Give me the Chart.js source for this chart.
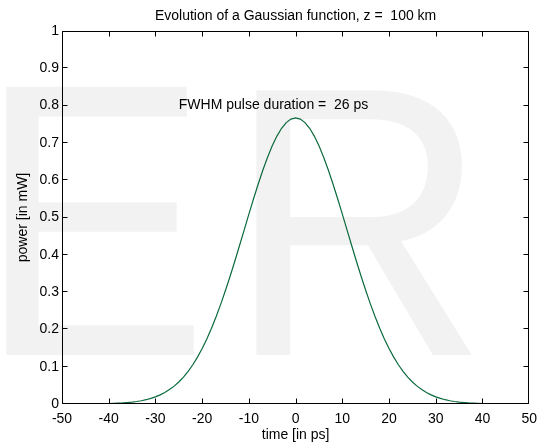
<!DOCTYPE html>
<html><head><meta charset="utf-8">
<script src="https://cdn.jsdelivr.net/npm/chart.js@4/dist/chart.umd.min.js"></script>
<style>html,body{margin:0;padding:0;background:#fff;overflow:hidden}</style>
</head><body><canvas id="c" width="544" height="443"></canvas>
<script>
const chartTitle = 'Evolution of a Gaussian function, z =  100 km';
const xAxisTitle = 'time [in ps]';
const yAxisTitle = 'power [in mW]';
const annotationText = 'FWHM pulse duration =  26 ps';
const annotationPos = [-25, 0.8];

const timePs = [-50,-48,-46,-44,-42,-40,-39,-38,-37,-36,-35,-34,-33,-32,-31,-30,-29,-28,-27,-26,-25,-24,-23,-22,-21,-20,-19,-18,-17,-16,-15,-14,-13,-12,-11,-10,-9,-8,-7,-6,-5,-4,-3,-2,-1,0,1,2,3,4,5,6,7,8,9,10,11,12,13,14,15,16,17,18,19,20,21,22,23,24,25,26,27,28,29,30,31,32,33,34,35,36,37,38,39,40,42,44,46,48,50];
const powerMw = [0,0,0.0001,0.0002,0.0005,0.0011,0.0015,0.0021,0.0028,0.0038,0.0050,0.0067,0.0088,0.0115,0.0149,0.0191,0.0244,0.0308,0.0386,0.0479,0.0591,0.0722,0.0876,0.1053,0.1257,0.1486,0.1745,0.2031,0.2344,0.2684,0.3048,0.3433,0.3835,0.4249,0.4669,0.5089,0.5502,0.5899,0.6273,0.6617,0.6922,0.7183,0.7392,0.7545,0.7639,0.767,0.7639,0.7545,0.7392,0.7183,0.6922,0.6617,0.6273,0.5899,0.5502,0.5089,0.4669,0.4249,0.3835,0.3433,0.3048,0.2684,0.2344,0.2031,0.1745,0.1486,0.1257,0.1053,0.0876,0.0722,0.0591,0.0479,0.0386,0.0308,0.0244,0.0191,0.0149,0.0115,0.0088,0.0067,0.0050,0.0038,0.0028,0.0021,0.0015,0.0011,0.0005,0.0002,0.0001,0,0];

const xTickValues = [-50,-40,-30,-20,-10,0,10,20,30,40,50];
const xTickLabels = ['-50','-40','-30','-20','-10','0','10','20','30','40','50'];
const yTickValues = [0,0.1,0.2,0.3,0.4,0.5,0.6,0.7,0.8,0.9,1];
const yTickLabels = ['0','0.1','0.2','0.3','0.4','0.5','0.6','0.7','0.8','0.9','1'];

const FONT = 'Arial, "Liberation Sans", Helvetica, sans-serif';
const FS = 14;
Chart.defaults.font.family = FONT;
Chart.defaults.font.size = FS;
Chart.defaults.color = '#000';

// watermark letters: [text, left, right, top, bottom]
const watermarkLetters = [['E', 5, 194, 86, 355], ['R', 255, 476, 86, 355]];

const decor = {
  id: 'decor',
  beforeDraw(chart) {
    const ctx = chart.ctx;
    ctx.save();
    ctx.fillStyle = '#f2f2f2';
    ctx.textBaseline = 'alphabetic';
    ctx.textAlign = 'left';
    for (const [t, l, r, top, bot] of watermarkLetters) {
      ctx.font = '100px ' + FONT;
      const m = ctx.measureText(t);
      const asc = m.actualBoundingBoxAscent;
      const size = 100 * (bot - top) / asc;
      ctx.font = size + 'px ' + FONT;
      const m2 = ctx.measureText(t);
      const gl = -m2.actualBoundingBoxLeft;
      const gw = m2.actualBoundingBoxRight + m2.actualBoundingBoxLeft;
      const sx = (r - l) / gw;
      ctx.save();
      ctx.translate(l, bot);
      ctx.scale(sx, 1);
      ctx.fillText(t, -gl, 0);
      ctx.restore();
    }
    ctx.restore();
  },
  afterDraw(chart) {
    const ctx = chart.ctx;
    const a = chart.chartArea;
    const xs = chart.scales.x, ys = chart.scales.y;
    const L = Math.round(a.left) + 0.5, R = Math.round(a.right) - 0.5;
    const T = Math.round(a.top) + 0.5, B = Math.round(a.bottom) - 0.5;
    ctx.save();
    ctx.strokeStyle = '#000';
    ctx.lineWidth = 1;
    ctx.beginPath();
    ctx.rect(L, T, R - L, B - T);
    const tl = 5;
    for (const v of xTickValues) {
      let x = Math.round(xs.getPixelForValue(v)) + 0.5;
      x = Math.min(Math.max(x, L), R);
      ctx.moveTo(x, B); ctx.lineTo(x, B - tl);
      ctx.moveTo(x, T); ctx.lineTo(x, T + tl);
    }
    for (const v of yTickValues) {
      let y = Math.round(ys.getPixelForValue(v)) - 0.5;
      y = Math.min(Math.max(y, T), B);
      ctx.moveTo(L, y); ctx.lineTo(L + tl, y);
      ctx.moveTo(R, y); ctx.lineTo(R - tl, y);
    }
    ctx.stroke();

    ctx.fillStyle = '#000';
    ctx.font = FS + 'px ' + FONT;
    ctx.textAlign = 'center';
    ctx.textBaseline = 'alphabetic';
    ctx.fillText(chartTitle, (a.left + a.right) / 2, 19.5);
    ctx.fillText(xAxisTitle, (a.left + a.right) / 2, 439);
    ctx.save();
    ctx.translate(23, (a.top + a.bottom) / 2);
    ctx.rotate(-Math.PI / 2);
    ctx.textBaseline = 'middle';
    ctx.fillText(yAxisTitle, 0, 0);
    ctx.restore();
    ctx.textAlign = 'left';
    ctx.textBaseline = 'middle';
    ctx.fillText(annotationText, xs.getPixelForValue(annotationPos[0]), ys.getPixelForValue(annotationPos[1]));
    ctx.restore();
  }
};

new Chart(document.getElementById('c'), {
  type: 'line',
  data: {
    datasets: [{
      data: timePs.map((t, i) => ({x: t, y: powerMw[i]})),
      borderColor: '#0b6a3c',
      borderWidth: 1.2,
      pointRadius: 0,
      tension: 0,
      fill: false
    }]
  },
  options: {
    responsive: false,
    animation: false,
    devicePixelRatio: 1,
    layout: {padding: {top: 31, right: 9, left: 0, bottom: 0}},
    plugins: {legend: {display: false}, tooltip: {enabled: false}, title: {display: false}},
    scales: {
      x: {
        type: 'linear', min: -50, max: 50,
        grid: {display: false, drawTicks: false},
        border: {display: false},
        afterBuildTicks: s => { s.ticks = xTickValues.map(v => ({value: v})); },
        ticks: {padding: 7, maxRotation: 0, autoSkip: false,
          callback: (v) => xTickLabels[xTickValues.indexOf(v)]},
        afterFit: s => { s.height = 39; }
      },
      y: {
        type: 'linear', min: 0, max: 1,
        grid: {display: false, drawTicks: false},
        border: {display: false},
        afterBuildTicks: s => { s.ticks = yTickValues.map(v => ({value: v})); },
        ticks: {padding: 3, autoSkip: false,
          callback: (v) => yTickLabels[yTickValues.findIndex(u => Math.abs(u - v) < 1e-9)]},
        afterFit: s => { s.width = 62; }
      }
    }
  },
  plugins: [decor]
});
</script></body></html>
